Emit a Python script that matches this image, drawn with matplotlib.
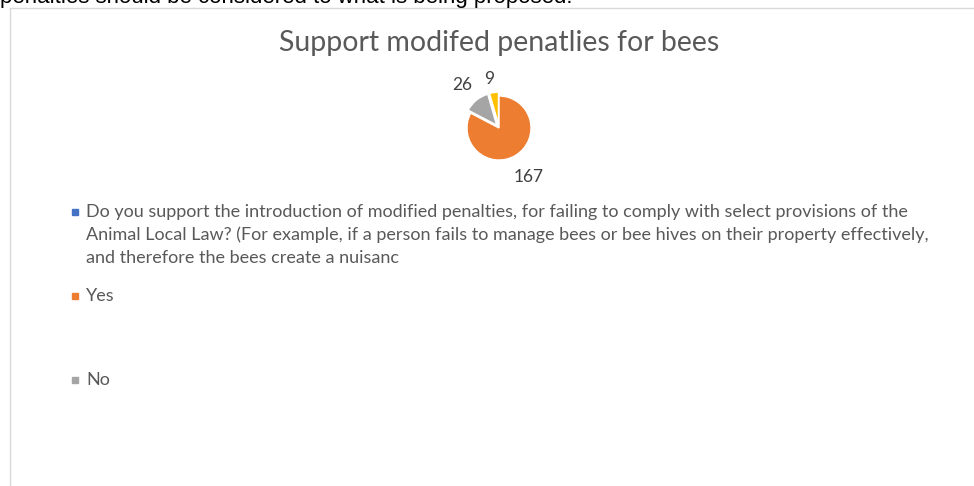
import matplotlib.pyplot as plt
import matplotlib.patches as mpatches
import numpy as np

W, H = 974, 486

categories = ["Do you support the introduction of modified penalties, for failing to comply with select provisions of the\n"
              "Animal Local Law? (For example, if a person fails to manage bees or bee hives on their property effectively,\n"
              "and therefore the bees create a nuisanc",
              "Yes", "No", ""]
values = [0, 167, 26, 9]
colors = ["#4472c4", "#ed7d31", "#a5a5a5", "#ffc000"]
title = "Support modifed penatlies for bees"
header = "penalties should be considered to what is being proposed."

plt.rcParams['font.family'] = ['Lato', 'DejaVu Sans']
fig = plt.figure(figsize=(W / 100, H / 100), dpi=100)
fig.patch.set_facecolor("white")

def px(x, y):
    return x / W, 1 - y / H

# chart frame
fig.add_artist(plt.Line2D([10 / W, 1], [1 - 8 / H] * 2, color="#d9d9d9", lw=1))
fig.add_artist(plt.Line2D([10 / W] * 2, [1 - 8 / H, 0], color="#d9d9d9", lw=1))

# cut off line of the page text above the chart
fig.text(0, 1 - 3 / H, header, fontsize=16, family="Liberation Sans", color="black", va="baseline")

fig.text(*px(499, 43), title, fontsize=20.5, color="#595959", ha="center", va="center")

# pie
cx, cy, size = 499, 128, 80
ax = fig.add_axes([(cx - size / 2) / W, 1 - (cy + size / 2) / H, size / W, size / H])
explode = [0, 0, 0.12, 0.12]
wedges, _ = ax.pie(values, colors=colors, startangle=90, counterclock=False, explode=explode,
                   wedgeprops=dict(edgecolor="white", linewidth=1))
ax.set_xlim(-1.25, 1.25)
ax.set_ylim(-1.25, 1.25)
ax.set_aspect("equal")
ax.axis("off")

label_r = [0, 1.8, 1.75, 1.55]
label_shift = [0, 0.0, -0.05, -0.1]
for w, v, r, sh in zip(wedges, values, label_r, label_shift):
    if v == 0:
        continue
    ang = np.deg2rad((w.theta1 + w.theta2) / 2)
    ax.text(r * np.cos(ang) + sh, r * np.sin(ang), str(v), fontsize=12.5, color="#404040",
            ha="center", va="center", clip_on=False)

# legend
leg_y = [212, 296, 380]
for cat, col, y in zip(categories[:3], colors[:3], leg_y):
    fig.add_artist(mpatches.Rectangle(px(72, y + 3), 6 / W, 6 / H, color=col, transform=fig.transFigure))
    fig.text(*px(86, y - 8), cat, fontsize=13, color="#595959", va="top", linespacing=1.5)

fig.savefig("out.png", dpi=100)
